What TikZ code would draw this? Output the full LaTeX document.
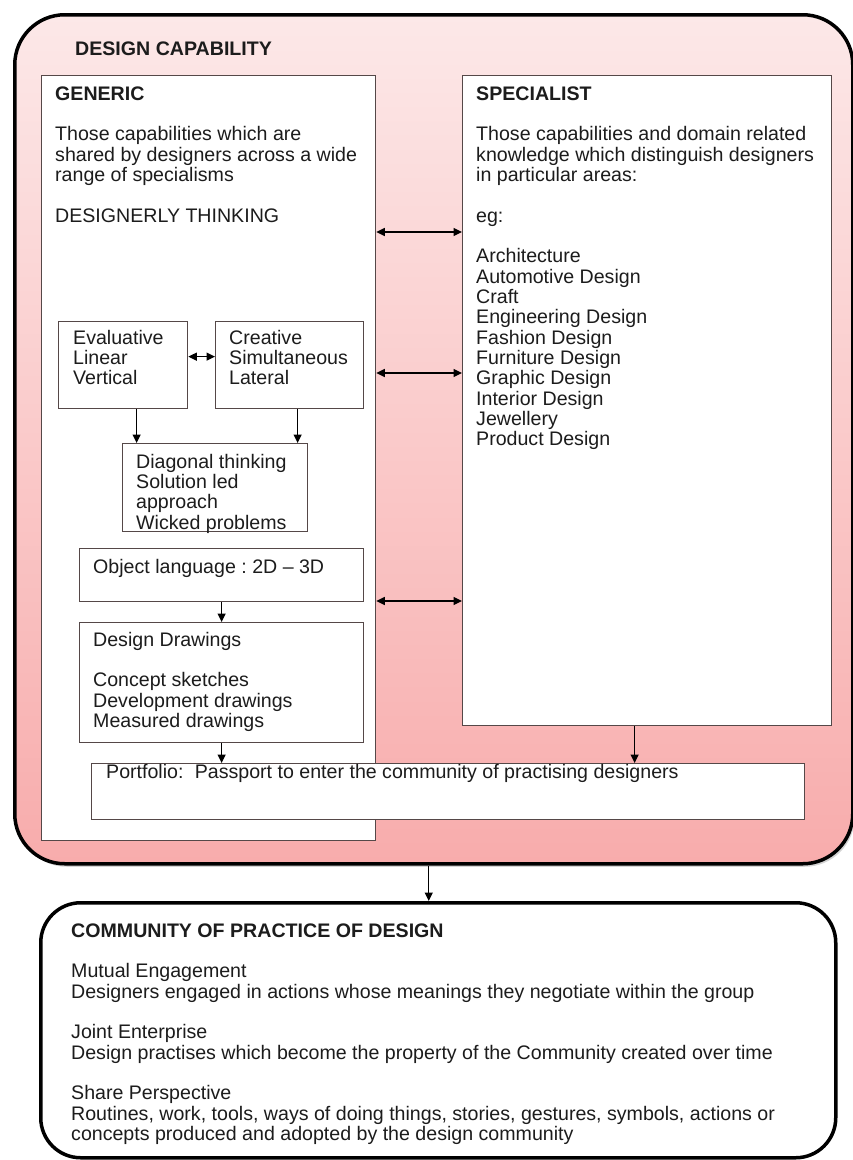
\documentclass[tikz,border=0pt]{standalone}
\usepackage{fontspec}
\setmainfont{Liberation Sans}
\usetikzlibrary{arrows.meta,shadows,calc}
\definecolor{pinktop}{RGB}{252,232,232}
\definecolor{pinkbot}{RGB}{248,172,172}
\definecolor{boxline}{RGB}{85,72,72}
\definecolor{ink}{RGB}{28,28,28}
\frenchspacing
\newcommand\tfont{\fontsize{19.6pt}{20.35pt}\selectfont}
\newcommand\lines[1]{\begin{tabular}[t]{@{}l@{}}#1\end{tabular}}
\begin{document}
\begin{tikzpicture}[x=1pt,y=-1pt,
  box/.style={draw=boxline, line width=1.3pt, fill=white, rectangle, inner sep=0pt, anchor=north west},
  bigbox/.style={draw=black, line width=3.5pt, rectangle, inner sep=0pt, anchor=north west},
  txt/.style={anchor=base west, inner sep=0pt, text=ink, font=\tfont},
  arr/.style={-{Triangle[length=8.5pt,width=8pt]}, line width=1.2pt, black},
  arrboth/.style={{Triangle[length=8.5pt,width=8pt]}-{Triangle[length=8.5pt,width=8pt]}, line width=1.2pt, black},
]
\useasboundingbox (0,0) rectangle (852,1160);

% outer container
\node[bigbox, rounded corners=50pt, top color=pinktop, bottom color=pinkbot,
      minimum width=838pt, minimum height=849pt,
      drop shadow={opacity=0.35, shadow xshift=2pt, shadow yshift=-3pt}] (cap) at (13,13) {};
\node[txt, font=\tfont\bfseries] (capt) at (75,55) {DESIGN CAPABILITY};

% main columns
\node[box, minimum width=334pt, minimum height=765pt] (generic) at (41,75) {};
\node[box, minimum width=369pt, minimum height=650pt] (spec) at (462,75) {};

\node[txt] (gent) at (55,100) {\lines{\textbf{GENERIC}\\ \\
Those capabilities which are\\
shared by designers across a wide\\
range of specialisms\\ \\
DESIGNERLY THINKING}};

\node[txt] (spect) at (476,100) {\lines{\textbf{SPECIALIST}\\ \\
Those capabilities and domain related\\
knowledge which distinguish designers\\
in particular areas:\\ \\
eg:\\ \\
Architecture\\
Automotive Design\\
Craft\\
Engineering Design\\
Fashion Design\\
Furniture Design\\
Graphic Design\\
Interior Design\\
Jewellery\\
Product Design}};

% inner boxes
\node[box, minimum width=129pt, minimum height=87pt] (eval) at (58,321) {};
\node[box, minimum width=148pt, minimum height=87pt] (crea) at (215,321) {};
\node[box, minimum width=185pt, minimum height=88pt] (diag) at (122,443) {};
\node[box, minimum width=284pt, minimum height=53pt] (obj) at (79,548) {};
\node[box, minimum width=284pt, minimum height=120pt] (draw) at (79,622) {};
\node[box, minimum width=713pt, minimum height=56pt] (port) at (91,763) {};

\node[txt] (evalt) at (73,344) {\lines{Evaluative\\Linear\\Vertical}};
\node[txt] (creat) at (229,344) {\lines{Creative\\Simultaneous\\Lateral}};
\node[txt] (diagt) at (136,468) {\lines{Diagonal thinking\\Solution led\\approach\\Wicked problems}};
\node[txt] (objt) at (93,573) {Object language : 2D -- 3D};
\node[txt] (drawt) at (93,646) {\lines{Design Drawings\\ \\Concept sketches\\Development drawings\\Measured drawings}};
\node[txt] (portt) at (106,778) {Portfolio:\hspace{0.3em} Passport to enter the community of practising designers};

% community box
\node[bigbox, rounded corners=40pt, fill=white, minimum width=795pt, minimum height=255pt] (comm) at (39,901) {};
\node[txt] (commt) at (71,937) {\lines{\textbf{COMMUNITY OF PRACTICE OF DESIGN}\\ \\
Mutual Engagement\\
Designers engaged in actions whose meanings they negotiate within the group\\ \\
Joint Enterprise\\
Design practises which become the property of the Community created over time\\ \\
Share Perspective\\
Routines, work, tools, ways of doing things, stories, gestures, symbols, actions or\\
concepts produced and adopted by the design community}};

% connectors
\coordinate (r1) at (0,232);
\coordinate (r2) at (0,373);
\coordinate (r3) at (0,601);
\draw[arrboth] (generic.east |- r1) -- (spec.west |- r1);
\draw[arrboth] (generic.east |- r2) -- (spec.west |- r2);
\draw[arrboth] (generic.east |- r3) -- (spec.west |- r3);
\draw[arrboth] ([yshift=8.5pt]eval.east) -- ([yshift=8.5pt]eval.east -| crea.west);
\draw[arr] ([xshift=13.5pt]eval.south) -- ([xshift=13.5pt]eval.south |- diag.north);
\draw[arr] ([xshift=8pt]crea.south) -- ([xshift=8pt]crea.south |- diag.north);
\draw[arr] (obj.south) -- (draw.north);
\draw[arr] (draw.south) -- (draw.south |- port.north);
\draw[arr] ([xshift=-12.5pt]spec.south) -- ([xshift=-12.5pt]spec.south |- port.north);
\draw[arr] ([xshift=-5pt]cap.south) -- ([xshift=-5pt]cap.south |- comm.north);
\end{tikzpicture}
\end{document}
